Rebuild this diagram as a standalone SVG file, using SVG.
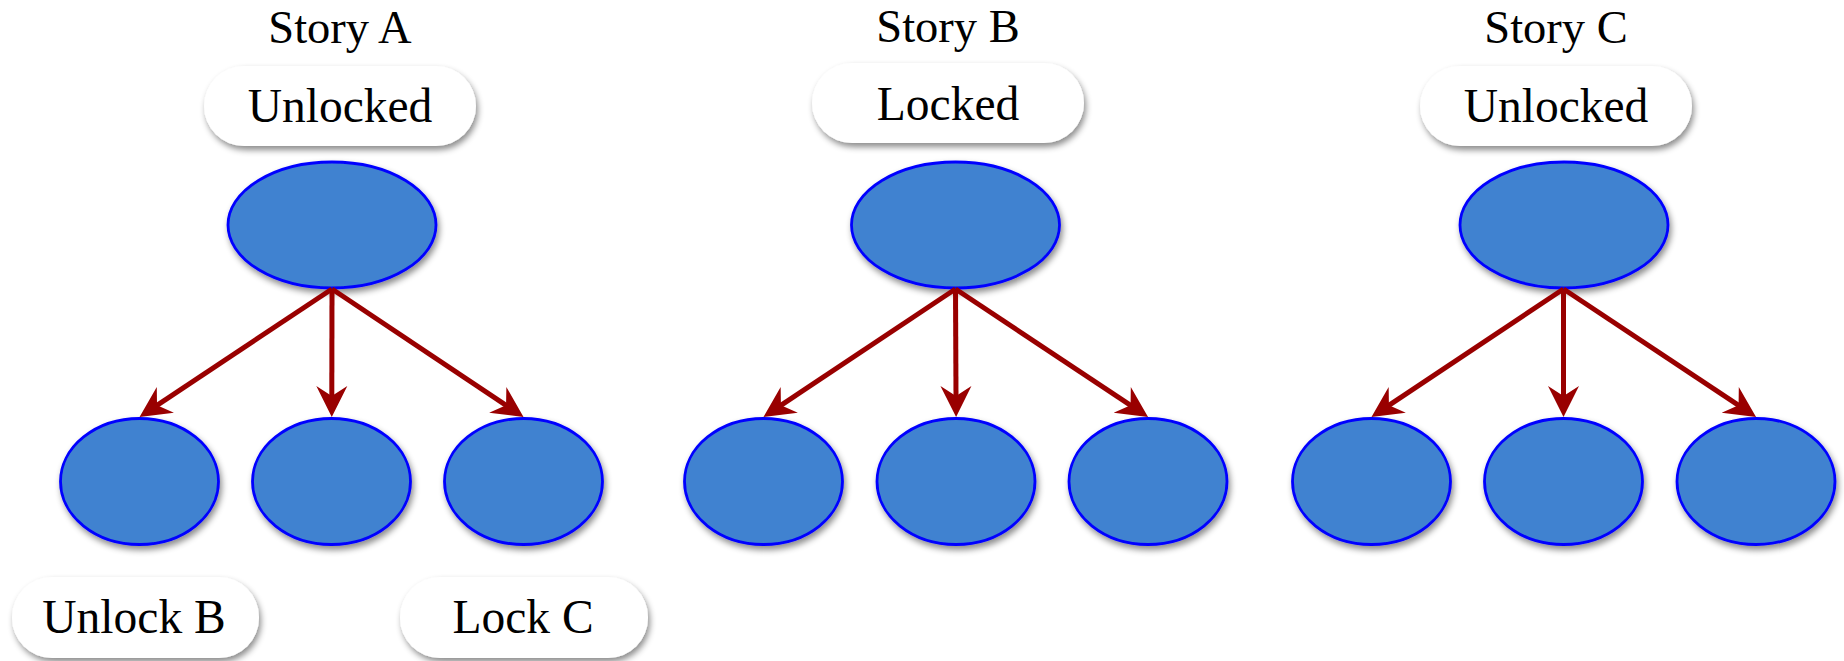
<svg xmlns="http://www.w3.org/2000/svg" width="1844" height="661" viewBox="0 0 1844 661">
<defs>
<filter id="sh" x="-20%" y="-20%" width="140%" height="150%">
<feDropShadow dx="2" dy="4" stdDeviation="3" flood-color="#000" flood-opacity="0.45"/>
</filter>
<marker id="ah" markerUnits="userSpaceOnUse" viewBox="-34 -18 36 36" markerWidth="36" markerHeight="36" refX="-20" refY="0" orient="auto">
<path d="M0,0 L-31,-15.5 L-21,0 L-31,15.5 Z" fill="#990000"/>
</marker>
</defs>
<style>
.title{font-family:"Liberation Serif","Times New Roman",serif;font-size:46.5px;fill:#000;text-anchor:middle}
.lbl{font-family:"Liberation Serif","Times New Roman",serif;font-size:47.5px;fill:#000;text-anchor:middle}
.pill{fill:#fff;filter:url(#sh)}
.node{fill:#4182D0;stroke:#0000FF;stroke-width:2.8;filter:url(#sh)}
.edge{stroke:#990000;stroke-width:5;fill:none;marker-end:url(#ah)}
</style>
<rect width="1844" height="661" fill="#fff"/>

<g id="story-a">
<text class="title" x="340" y="43">Story A</text>
<g id="a-state"><rect class="pill" x="204" y="66" width="272" height="80" rx="40"/><text class="lbl" x="340" y="122">Unlocked</text></g>
<ellipse id="a-root" class="node" cx="332" cy="225" rx="104" ry="63"/>
<ellipse id="a-c1" class="node" cx="139.5" cy="481.5" rx="79" ry="63"/>
<ellipse id="a-c2" class="node" cx="331.5" cy="481.5" rx="79" ry="63"/>
<ellipse id="a-c3" class="node" cx="523.5" cy="481.5" rx="79" ry="63"/>
<g id="a-unlockb"><rect class="pill" x="12" y="577" width="247" height="81" rx="40"/><text class="lbl" x="134" y="633">Unlock B</text></g>
<g id="a-lockc"><rect class="pill" x="400" y="577" width="248" height="81" rx="40"/><text class="lbl" x="523" y="633">Lock C</text></g>
</g>

<g id="story-b">
<text class="title" x="948" y="42">Story B</text>
<g id="b-state"><rect class="pill" x="812" y="63" width="272" height="80" rx="40"/><text class="lbl" x="948" y="120">Locked</text></g>
<ellipse id="b-root" class="node" cx="955.5" cy="225" rx="104" ry="63"/>
<ellipse id="b-c1" class="node" cx="763.5" cy="481.5" rx="79" ry="63"/>
<ellipse id="b-c2" class="node" cx="956" cy="481.5" rx="79" ry="63"/>
<ellipse id="b-c3" class="node" cx="1148" cy="481.5" rx="79" ry="63"/>
</g>

<g id="story-c">
<text class="title" x="1556" y="43">Story C</text>
<g id="c-state"><rect class="pill" x="1420" y="66" width="272" height="80" rx="40"/><text class="lbl" x="1556" y="122">Unlocked</text></g>
<ellipse id="c-root" class="node" cx="1564" cy="225" rx="104" ry="63"/>
<ellipse id="c-c1" class="node" cx="1371.5" cy="481.5" rx="79" ry="63"/>
<ellipse id="c-c2" class="node" cx="1563.5" cy="481.5" rx="79" ry="63"/>
<ellipse id="c-c3" class="node" cx="1756" cy="481.5" rx="79" ry="63"/>
</g>

<g id="connectors">
<line class="edge" x1="332" y1="289" x2="156.2" y2="405.9"/>
<line class="edge" x1="332" y1="289" x2="331.8" y2="397"/>
<line class="edge" x1="332" y1="289" x2="506.9" y2="405.9"/>
<line class="edge" x1="955.5" y1="289" x2="780.1" y2="405.9"/>
<line class="edge" x1="955.5" y1="289" x2="956" y2="397"/>
<line class="edge" x1="955.5" y1="289" x2="1131.4" y2="405.9"/>
<line class="edge" x1="1563.5" y1="289" x2="1388.1" y2="405.9"/>
<line class="edge" x1="1563.5" y1="289" x2="1563.5" y2="397"/>
<line class="edge" x1="1563.5" y1="289" x2="1739.4" y2="405.9"/>
</g>
</svg>
